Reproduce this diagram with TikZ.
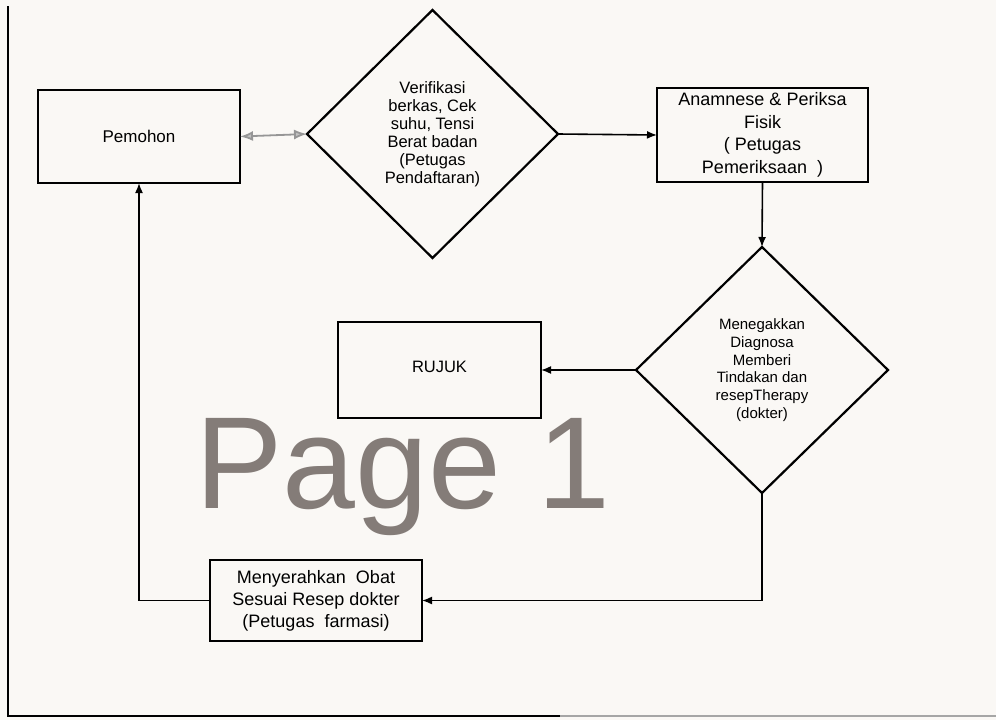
\documentclass[tikz,border=0pt]{standalone}
\usepackage{fontspec}
\setmainfont{Liberation Sans}
\usetikzlibrary{shapes.geometric,arrows.meta}
\definecolor{paper}{RGB}{250,248,245}
\definecolor{wm}{RGB}{132,124,120}
\definecolor{arrgray}{RGB}{150,150,150}
\tikzset{
  boxnode/.style={draw=black,line width=2.2pt,rectangle,inner sep=0pt,outer sep=0pt,align=center},
  decnode/.style={draw=black,line width=2.2pt,diamond,inner sep=0pt,outer sep=0pt,align=center},
  conn/.style={line width=1.6pt,-{Latex[length=10pt,width=8pt]}},
  grayconn/.style={line width=1.8pt,draw=arrgray,{Latex[length=13pt,width=10pt,fill=arrgray!60]}-{Latex[length=13pt,width=10pt,fill=arrgray!60]}}
}
\begin{document}
\begin{tikzpicture}[x=1pt,y=-1pt]
\fill[paper] (0,0) rectangle (996,720);
\useasboundingbox (0,0) rectangle (996,720);
% page frame
\draw[line width=2pt,black] (8,6) -- (8,716) -- (560,716);
\draw[line width=2pt,black!35] (560,716) -- (996,716);
% watermark
\node[anchor=base west,inner sep=0pt,text=wm,font=\fontsize{131}{131}\selectfont] (wmark) at (195,508) {Page 1};
% nodes
\node[boxnode,minimum width=202pt,minimum height=93pt,font=\fontsize{17}{20}\selectfont] (pemohon) at (139,136.5) {Pemohon};
\node[decnode,minimum width=251pt,minimum height=248pt,font=\fontsize{16.5}{18}\selectfont] (d1) at (432.5,134) {Verifikasi\\berkas, Cek\\suhu, Tensi\\Berat badan\\(Petugas\\Pendaftaran)};
\node[boxnode,minimum width=211pt,minimum height=94pt,font=\fontsize{18}{22.5}\selectfont] (anam) at (762.5,135) {Anamnese \& Periksa\\Fisik\\( Petugas\\Pemeriksaan\ \ )};
\node[decnode,minimum width=252pt,minimum height=246pt,font=\fontsize{15}{17.7}\selectfont] (d2) at (762,370) {Menegakkan\\Diagnosa\\Memberi\\Tindakan dan\\resepTherapy\\(dokter)};
\node[boxnode,minimum width=203pt,minimum height=96pt,font=\fontsize{16.5}{20}\selectfont] (rujuk) at (439.5,370) {\raisebox{7pt}{RUJUK}};
\node[boxnode,minimum width=212pt,minimum height=81pt,font=\fontsize{18}{22}\selectfont] (menyer) at (316,600.5) {Menyerahkan\ \ Obat\\Sesuai Resep dokter\\(Petugas\ \ farmasi)};
% connectors
\draw[grayconn] (pemohon.east) -- (d1.west);
\draw[conn] (d1.east) -- (anam.west);
\draw[conn] (anam.south) -- (d2.north);
\draw[conn] (d2.west) -- (rujuk.east);
\draw[conn] (d2.south) -- (d2.south |- menyer.east) -- (menyer.east);
\draw[conn] (menyer.west) -- (menyer.west -| pemohon.south) -- (pemohon.south);
\end{tikzpicture}
\end{document}
